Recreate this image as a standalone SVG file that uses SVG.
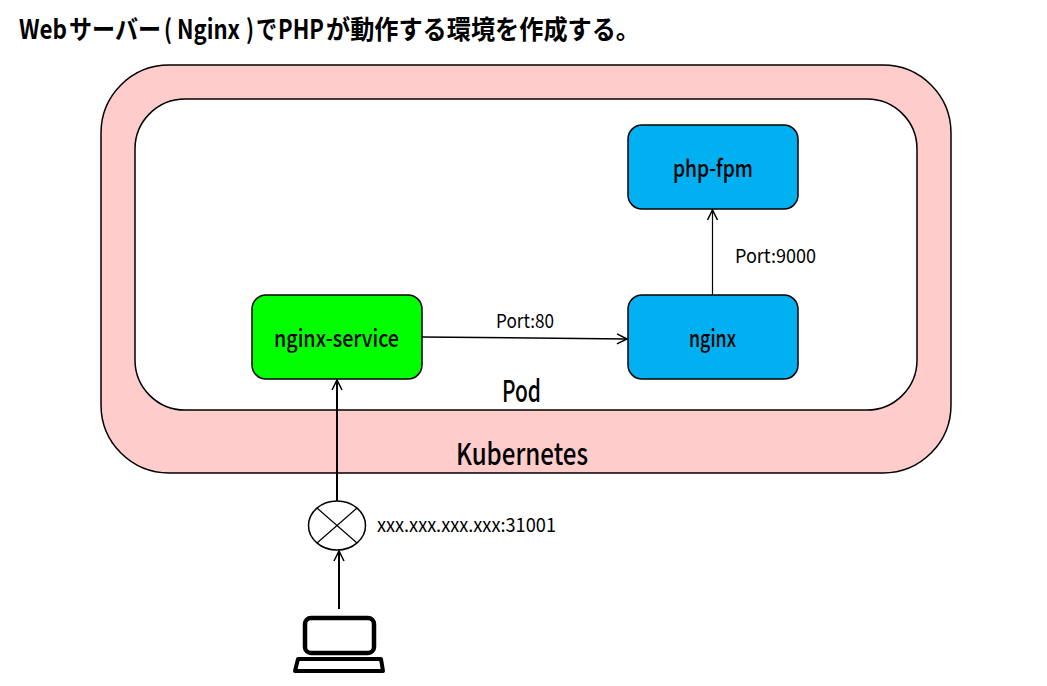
<svg xmlns="http://www.w3.org/2000/svg" width="1047" height="686" viewBox="0 0 1047 686">
<style>
text{font-family:"Noto Sans CJK JP","Liberation Sans",sans-serif;fill:#000}
.title{font-size:24px;font-weight:700}
.node{font-size:24px;font-weight:500}
.small{font-size:19px}
.large{font-size:30px;font-weight:500}
.box{stroke:#000;stroke-width:1.5}
.line{fill:none;stroke:#000;marker-end:url(#arrow)}
</style>
<defs>
<marker id="arrow" markerUnits="userSpaceOnUse" markerWidth="14" markerHeight="14" refX="11" refY="6" orient="auto">
<path d="M1 1L11 6L1 11" fill="none" stroke="#000" stroke-width="1.5"/>
</marker>
</defs>
<rect width="1047" height="686" fill="#fff"/>
<text class="title" transform="translate(0 39) scale(1 1.1)"><tspan x="19" textLength="48" lengthAdjust="spacingAndGlyphs">Web</tspan><tspan x="69" textLength="92" lengthAdjust="spacingAndGlyphs">サーバー</tspan><tspan x="164" textLength="8" lengthAdjust="spacingAndGlyphs">(</tspan><tspan x="177" textLength="63" lengthAdjust="spacingAndGlyphs">Nginx</tspan><tspan x="246" textLength="8" lengthAdjust="spacingAndGlyphs">)</tspan><tspan x="256" textLength="21" lengthAdjust="spacingAndGlyphs">で</tspan><tspan x="278" textLength="46" lengthAdjust="spacingAndGlyphs">PHP</tspan><tspan x="326" textLength="314" lengthAdjust="spacingAndGlyphs">が動作する環境を作成する。</tspan></text>
<g id="kubernetes">
<rect class="box" x="101" y="65" width="850" height="408" rx="68" fill="#FFCCCC"/>
<text class="large" x="456" y="465" textLength="132" lengthAdjust="spacingAndGlyphs">Kubernetes</text>
</g>
<g id="pod">
<rect class="box" x="135" y="99" width="782" height="311" rx="50" fill="#fff"/>
<text class="large" x="502" y="402" textLength="39" lengthAdjust="spacingAndGlyphs">Pod</text>
</g>
<g id="nginx-service">
<rect class="box" x="252" y="295" width="170" height="84" rx="14" fill="#00FF00"/>
<text class="node" x="274" y="347" textLength="125" lengthAdjust="spacingAndGlyphs">nginx-service</text>
</g>
<g id="nginx">
<rect class="box" x="628" y="295" width="170" height="84" rx="14" fill="#00B0F0"/>
<text class="node" x="689" y="347" textLength="47" lengthAdjust="spacingAndGlyphs">nginx</text>
</g>
<g id="php-fpm">
<rect class="box" x="628" y="125" width="170" height="84" rx="14" fill="#00B0F0"/>
<text class="node" x="673" y="177" textLength="80" lengthAdjust="spacingAndGlyphs">php-fpm</text>
</g>
<g id="connectors">
<line class="line" x1="422" y1="337" x2="627" y2="339" stroke-width="1.5"/>
<line class="line" x1="712.500" y1="295" x2="712.500" y2="210" stroke-width="1.2"/>
<line class="line" x1="337" y1="501" x2="337" y2="380" stroke-width="2"/>
<line class="line" x1="339" y1="609" x2="339" y2="551" stroke-width="2"/>
</g>
<g id="port80"><text class="small" x="496" y="328" textLength="58" lengthAdjust="spacingAndGlyphs">Port:80</text></g>
<g id="port9000"><text class="small" x="735" y="263" textLength="81" lengthAdjust="spacingAndGlyphs">Port:9000</text></g>
<g id="node-port">
<ellipse cx="337" cy="525.500" rx="28.500" ry="24.500" fill="#fff" stroke="#000" stroke-width="1.5"/>
<path d="M317 508L357 543M357 508L317 543" stroke="#000" stroke-width="1.2" fill="none"/>
<text class="small" x="377" y="532" textLength="179" lengthAdjust="spacingAndGlyphs">xxx.xxx.xxx.xxx:31001</text>
</g>
<g id="laptop" fill="none" stroke="#000">
<rect x="305" y="618" width="69" height="35" rx="6" stroke-width="4.500"/>
<path d="M298 659H381L383 671H295Z" stroke-width="4" stroke-linejoin="round"/>
</g>
</svg>
